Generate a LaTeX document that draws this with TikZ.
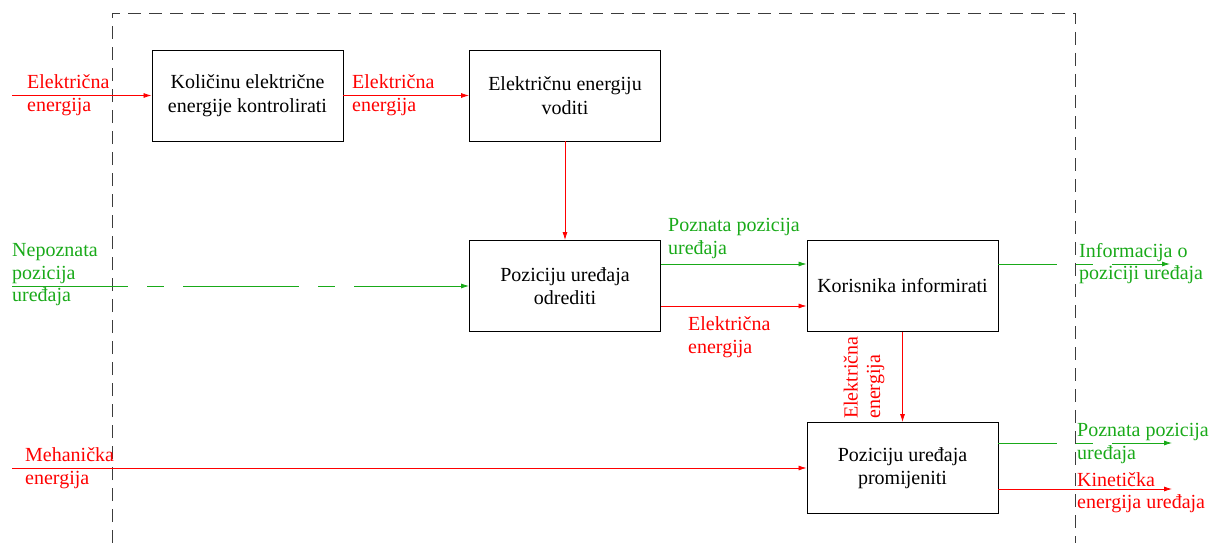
\documentclass[tikz,border=0pt]{standalone}
\usepackage{fontspec}
\setmainfont{Liberation Serif}
\usetikzlibrary{arrows.meta}
\definecolor{rouge}{RGB}{255,0,0}
\definecolor{vert}{RGB}{25,170,25}
\definecolor{cadre}{RGB}{60,60,60}
\begin{document}
\begin{tikzpicture}[x=1pt,y=-1pt,
	bloc/.style={draw,line width=0.9pt,minimum width=191pt,minimum height=91pt,align=center,font=\fontsize{20}{23.5}\selectfont},
	etiq/.style={align=left,inner sep=0pt,font=\fontsize{20}{22.5}\selectfont},
	fleche/.style={line width=0.8pt,-{Latex[length=8pt,width=5pt]}},
	info/.style={dash pattern=on 116pt off 19pt on 17pt off 19pt}]
	\useasboundingbox (0,0) rectangle (1215,543);
%					Tracé du cadre :
	\draw[cadre,line width=0.9pt,dash pattern=on 13pt off 8pt] (112,543) -- (112,13) -- (1075,13) -- (1075,543);
%					Tracé des blocs :
	\node[bloc] (kolicina) at (247.5,95.5) {Količinu električne\\energije kontrolirati};
	\node[bloc] (voditi) at (565,95.5) {Električnu energiju\\voditi};
	\node[bloc] (odrediti) at (565,286) {Poziciju uređaja\\odrediti};
	\node[bloc] (informirati) at (902.5,286) {Korisnika informirati};
	\node[bloc] (promijeniti) at (902.5,468) {Poziciju uređaja\\promijeniti};
%					Entrées et sorties :
	\coordinate (ulazel) at (12,95.5);
	\coordinate (ulazpoz) at (12,286);
	\coordinate (ulazmeh) at (12,468);
	\coordinate (izlazinfo) at (1170,264);
	\coordinate (izlazpoz) at (1172,443);
	\coordinate (izlazkin) at (1172,489);
%					Tracé des flèches :
	\draw[fleche,rouge] (ulazel) -- (kolicina);
	\draw[fleche,rouge] (kolicina) -- (voditi);
	\draw[fleche,rouge] (voditi) -- (odrediti);
	\draw[fleche,vert,info] (ulazpoz) -- (odrediti);
	\draw[fleche,vert] ([yshift=22pt]odrediti.east) -- ([yshift=22pt]informirati.west);
	\draw[fleche,rouge] ([yshift=-20pt]odrediti.east) -- ([yshift=-20pt]informirati.west);
	\draw[fleche,rouge] (informirati) -- (promijeniti);
	\draw[fleche,rouge] (ulazmeh) -- (promijeniti);
	\draw[fleche,vert,info,dash phase=57pt] ([yshift=22pt]informirati.east) -- (izlazinfo);
	\draw[fleche,vert,info,dash phase=57pt] ([yshift=25pt]promijeniti.east) -- (izlazpoz);
	\draw[fleche,rouge] ([yshift=-21pt]promijeniti.east) -- (izlazkin);
%					Étiquettes :
	\node[etiq,rouge,anchor=west] (elulaz) at (27,95) {Električna\\energija};
	\node[etiq,rouge,anchor=west] (elvod) at (352,95) {Električna\\energija};
	\node[etiq,vert,anchor=west] (nepoznata) at (12,275) {Nepoznata\\pozicija\\uređaja};
	\node[etiq,vert,anchor=west] (poznata) at (668,238.5) {Poznata pozicija\\uređaja};
	\node[etiq,rouge,anchor=west] (elinf) at (688,337) {Električna\\energija};
	\node[etiq,rouge,rotate=90,anchor=west] (elprom) at (864,419) {Električna\\energija};
	\node[etiq,rouge,anchor=west] (mehanicka) at (25,468) {Mehanička\\energija};
	\node[etiq,vert,anchor=west] (informacija) at (1079,263.5) {Informacija o\\poziciji uređaja};
	\node[etiq,vert,anchor=west] (poznataizl) at (1077,443.5) {Poznata pozicija\\uređaja};
	\node[etiq,rouge,anchor=west] (kineticka) at (1077,492.5) {Kinetička\\energija uređaja};
\end{tikzpicture}
\end{document}
